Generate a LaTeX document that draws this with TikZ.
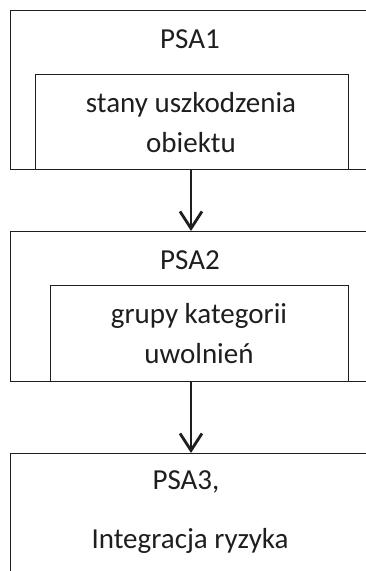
\documentclass[tikz,border=0pt]{standalone}
\usepackage{fontspec}
\setmainfont{Carlito}
\usetikzlibrary{arrows.meta}
\definecolor{ink}{HTML}{1E1E1E}
\tikzset{
  frame/.style={draw=ink, line width=1.1pt, rectangle, anchor=north west, inner sep=0pt},
  txt/.style={anchor=base, inner sep=0pt, text=ink, font=\fontsize{29}{34}\selectfont},
  flow/.style={draw=ink, line width=2.8pt, -{Straight Barb[length=17pt,width=22pt]}}
}
\begin{document}
\begin{tikzpicture}[x=1pt,y=-1pt]
\useasboundingbox (0,0) rectangle (366,571);
\node[frame, minimum width=370pt, minimum height=159pt] (outerA) at (10,10) {};
\node[frame, minimum width=313pt, minimum height=95pt] (innerA) at (35,74) {};
\node[frame, minimum width=370pt, minimum height=150pt] (outerB) at (10,231) {};
\node[frame, minimum width=298pt, minimum height=96pt] (innerB) at (50,285) {};
\node[frame, minimum width=370pt, minimum height=160pt] (outerC) at (10,453) {};
\node[txt] (tA) at (190,48) {PSA1};
\node[txt] (tA1) at (191,112) {stany uszkodzenia};
\node[txt] (tA2) at (191,152) {obiektu};
\node[txt] (tB) at (190,269) {PSA2};
\node[txt] (tB1) at (199,323) {grupy kategorii};
\node[txt] (tB2) at (199,363) {uwolnień};
\node[txt] (tC) at (186,489) {PSA3,};
\node[txt] (tC1) at (190,548) {Integracja ryzyka};
\draw[flow] (innerA.south -| tA) ++(1,0) coordinate (a1) (a1) -- (a1 |- outerB.north);
\draw[flow] (innerB.south -| tA) ++(1,0) coordinate (b1) (b1) -- (b1 |- outerC.north);
\end{tikzpicture}
\end{document}
